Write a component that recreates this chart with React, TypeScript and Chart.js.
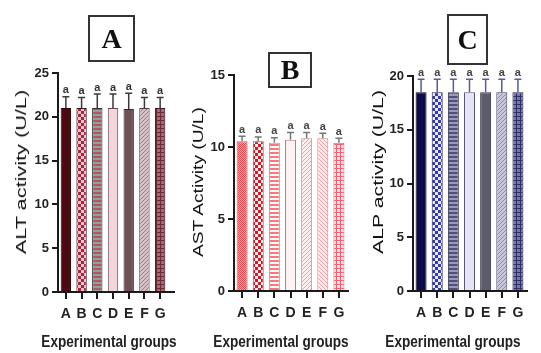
import React, { useEffect, useRef } from 'react';
import { Chart, registerables } from 'chart.js';

Chart.register(...registerables);

// ---------- data ----------
const groups = ['A', 'B', 'C', 'D', 'E', 'F', 'G'];
const sigLetters = ['a', 'a', 'a', 'a', 'a', 'a', 'a'];

const altValues = [21.0, 21.0, 21.0, 21.0, 20.9, 21.0, 21.0];
const altErrors = [1.3, 1.2, 1.6, 1.6, 1.8, 1.2, 1.2];
const altMax = 25;

const astValues = [10.4, 10.4, 10.3, 10.5, 10.6, 10.6, 10.3];
const astErrors = [0.35, 0.3, 0.35, 0.5, 0.4, 0.35, 0.3];
const astMax = 15;

const alpValues = [18.5, 18.5, 18.5, 18.5, 18.5, 18.5, 18.5];
const alpErrors = [1.2, 1.2, 1.2, 1.2, 1.2, 1.2, 1.2];
const alpMax = 20;

const tickStep = 5;

// ---------- styles ----------
type Fill = [string, string, string, string]; // kind, fg, bg, border

const altFills: Fill[] = [
  ['solid', '#4d0a12', '', '#2a0508'],
  ['checker', '#a5263e', '#f2c8cf', '#3a1a20'],
  ['hstripe', '#b05868', '#8fa394', '#3a2a2e'],
  ['solid', '#f2d6dc', '', '#6a4a52'],
  ['solid', '#6e5055', '', '#3a2a2e'],
  ['diag', '#a07f88', '#d6c0c6', '#4a3a3e'],
  ['grid', '#6a2a32', '#a86a72', '#3a1a20'],
];

const astFills: Fill[] = [
  ['fine', '#e84850', '#f8a8a8', '#c06060'],
  ['checker', '#d01828', '#fff0f0', '#a04048'],
  ['hstripe', '#f07a80', '#fff6f6', '#d08088'],
  ['solid', '#fff2f4', '', '#d07080'],
  ['diag', '#f09aa0', '#fff0f0', '#d08890'],
  ['diag2', '#f0a0a8', '#ffeaec', '#d08890'],
  ['grid', '#f06070', '#ffe4e8', '#c86070'],
];

const alpFills: Fill[] = [
  ['solid', '#0c0c48', '', '#050520'],
  ['checker', '#3838b0', '#e8e8ff', '#202050'],
  ['hstripe', '#505078', '#9a9ab8', '#303050'],
  ['solid', '#e4e4f4', '', '#555577'],
  ['solid', '#5c5c6c', '', '#303040'],
  ['diag', '#8888a8', '#c8c8dc', '#404060'],
  ['grid', '#303068', '#7878a8', '#202040'],
];

const SANS = '"Liberation Sans", Arial, sans-serif';

function makeFill(kind: string, fg: string, bg: string): any {
  if (kind === 'solid') return fg;
  const c = document.createElement('canvas');
  const g = c.getContext('2d') as CanvasRenderingContext2D;
  if (kind === 'checker') {
    c.width = c.height = 6;
    g.fillStyle = bg; g.fillRect(0, 0, 6, 6);
    g.fillStyle = fg; g.fillRect(0, 0, 3, 3); g.fillRect(3, 3, 3, 3);
  } else if (kind === 'fine') {
    c.width = c.height = 2;
    g.fillStyle = bg; g.fillRect(0, 0, 2, 2);
    g.fillStyle = fg; g.fillRect(0, 0, 1, 1); g.fillRect(1, 1, 1, 1);
  } else if (kind === 'hstripe') {
    c.width = c.height = 4;
    g.fillStyle = bg; g.fillRect(0, 0, 4, 4);
    g.fillStyle = fg; g.fillRect(0, 0, 4, 2);
  } else if (kind === 'grid') {
    c.width = c.height = 4;
    g.fillStyle = bg; g.fillRect(0, 0, 4, 4);
    g.fillStyle = fg; g.fillRect(0, 0, 4, 1); g.fillRect(0, 0, 1, 4);
  } else if (kind === 'diag' || kind === 'diag2') {
    c.width = c.height = 4;
    g.fillStyle = bg; g.fillRect(0, 0, 4, 4);
    g.fillStyle = fg;
    for (let i = 0; i < 4; i++) {
      const y = kind === 'diag' ? 3 - i : i;
      g.fillRect(i, y, 1, 1);
    }
  }
  return g.createPattern(c, 'repeat');
}

interface PanelCfg {
  values: number[];
  errors: number[];
  max: number;
  fills: Fill[];
  left: number;
  width: number;
  area: { left: number; right: number; top: number; bottom: number }; // chart area inside canvas
  errColor: string;
  letterColor: string;
  ext: number;
  barPct: number;
}

const Y_BOX = 45; // width reserved for y tick labels
const X_BOX = 34; // height reserved for x tick labels

function Panel({ cfg }: { cfg: PanelCfg }) {
  const ref = useRef<HTMLCanvasElement>(null);
  useEffect(() => {
    const fills = cfg.fills.map((f) => makeFill(f[0], f[1], f[2]));
    const a = cfg.area;
    const pad = {
      left: a.left - Y_BOX,
      right: cfg.width - a.right,
      top: a.top,
      bottom: 353 - a.bottom - X_BOX,
    };
    const errPlugin = {
      id: 'errbars',
      afterDatasetsDraw(chart: any) {
        const { ctx, chartArea } = chart;
        const meta = chart.getDatasetMeta(0);
        const ys = chart.scales.y;
        ctx.save();
        meta.data.forEach((bar: any, i: number) => {
          const x = bar.x;
          const yBar = ys.getPixelForValue(cfg.values[i]);
          const yTop = ys.getPixelForValue(cfg.values[i] + cfg.errors[i]);
          ctx.strokeStyle = cfg.errColor;
          ctx.lineWidth = 1.5;
          ctx.beginPath();
          ctx.moveTo(x, yBar);
          ctx.lineTo(x, yTop);
          ctx.moveTo(x - 3.5, yTop);
          ctx.lineTo(x + 3.5, yTop);
          ctx.stroke();
          ctx.fillStyle = cfg.letterColor;
          ctx.font = `bold 11px ${SANS}`;
          ctx.textAlign = 'center';
          ctx.textBaseline = 'bottom';
          ctx.fillText(sigLetters[i], x, yTop - 1);
        });
        ctx.strokeStyle = '#1a1a1a';
        ctx.lineWidth = 2;
        ctx.beginPath();
        ctx.moveTo(chartArea.right - 1, chartArea.bottom);
        ctx.lineTo(chartArea.right + cfg.ext, chartArea.bottom);
        ctx.stroke();
        ctx.restore();
      },
    };
    const chart = new Chart(ref.current as HTMLCanvasElement, {
      type: 'bar',
      data: {
        labels: groups,
        datasets: [
          {
            data: cfg.values,
            backgroundColor: fills,
            borderColor: cfg.fills.map((f) => f[3]),
            borderWidth: 1,
            barPercentage: cfg.barPct,
            categoryPercentage: 1,
          },
        ],
      },
      options: {
        responsive: false,
        animation: false,
        devicePixelRatio: 1,
        layout: { padding: pad },
        plugins: { legend: { display: false }, tooltip: { enabled: false } },
        scales: {
          x: {
            grid: {
              offset: false,
              drawOnChartArea: false,
              drawTicks: true,
              tickLength: 7,
              color: '#1a1a1a',
              lineWidth: 2,
            },
            border: { display: true, color: '#1a1a1a', width: 2 },
            ticks: {
              font: { family: SANS, size: 14, weight: 'bold' },
              color: '#222',
              padding: 7,
              maxRotation: 0,
              autoSkip: false,
            },
            afterFit: (s: any) => {
              s.height = X_BOX;
            },
          },
          y: {
            min: 0,
            max: cfg.max,
            ticks: {
              stepSize: tickStep,
              font: { family: SANS, size: 13, weight: 'bold' },
              color: '#222',
              padding: 3,
            },
            grid: {
              drawOnChartArea: false,
              drawTicks: true,
              tickLength: 6,
              color: '#1a1a1a',
              lineWidth: 2,
            },
            border: { display: true, color: '#1a1a1a', width: 2 },
            afterFit: (s: any) => {
              s.width = Y_BOX;
            },
          },
        },
      } as any,
      plugins: [errPlugin],
    });
    return () => chart.destroy();
  }, []);
  return (
    <canvas
      ref={ref}
      width={cfg.width}
      height={353}
      style={{ position: 'absolute', left: cfg.left, top: 0, width: cfg.width, height: 353 }}
    />
  );
}

const panels: PanelCfg[] = [
  {
    values: altValues, errors: altErrors, max: altMax, fills: altFills,
    left: 0, width: 180, area: { left: 58, right: 168, top: 73, bottom: 292 },
    errColor: '#3a3a3a', letterColor: '#333', ext: 7, barPct: 0.66,
  },
  {
    values: astValues, errors: astErrors, max: astMax, fills: astFills,
    left: 180, width: 180, area: { left: 54, right: 167, top: 75, bottom: 291 },
    errColor: '#777', letterColor: '#444', ext: 2, barPct: 0.68,
  },
  {
    values: alpValues, errors: alpErrors, max: alpMax, fills: alpFills,
    left: 360, width: 181, area: { left: 53, right: 166, top: 76, bottom: 291 },
    errColor: '#5a5aa0', letterColor: '#444', ext: 2, barPct: 0.68,
  },
];

const boxTitles = [
  { text: 'A', left: 88, top: 15, w: 47, h: 47 },
  { text: 'B', left: 268, top: 52, w: 44, h: 36 },
  { text: 'C', left: 447, top: 14, w: 41, h: 51 },
];

const yTitles = [
  { text: 'ALT activity (U/L)', cx: 21, cy: 172, sx: 1.55 },
  { text: 'AST Activity (U/L)', cx: 197.5, cy: 182, sx: 1.37 },
  { text: 'ALP activity (U/L)', cx: 377.5, cy: 172, sx: 1.52 },
];

const xTitles = [
  { text: 'Experimental groups', cx: 109, cy: 342 },
  { text: 'Experimental groups', cx: 281, cy: 342 },
  { text: 'Experimental groups', cx: 452.5, cy: 342 },
];

export default function App() {
  return (
    <div
      style={{
        position: 'absolute', left: 0, top: 0, width: 541, height: 353,
        background: '#fff', overflow: 'hidden',
      }}
    >
      {panels.map((p, i) => (
        <Panel key={i} cfg={p} />
      ))}
      {boxTitles.map((b, i) => (
        <div
          key={'b' + i}
          style={{
            position: 'absolute', left: b.left, top: b.top, width: b.w, height: b.h,
            boxSizing: 'border-box', border: '2px solid #333',
            display: 'flex', alignItems: 'center', justifyContent: 'center',
            fontFamily: '"Liberation Serif", "Times New Roman", serif', fontWeight: 'bold',
            fontSize: 28, color: '#111', lineHeight: 1,
          }}
        >
          {b.text}
        </div>
      ))}
      {yTitles.map((t, i) => (
        <div
          key={'y' + i}
          style={{
            position: 'absolute', left: t.cx, top: t.cy, whiteSpace: 'nowrap',
            transform: `translate(-50%, -50%) rotate(-90deg) scaleX(${t.sx})`,
            fontFamily: SANS, fontSize: 14, color: '#111', lineHeight: 1,
          }}
        >
          {t.text}
        </div>
      ))}
      {xTitles.map((t, i) => (
        <div
          key={'x' + i}
          style={{
            position: 'absolute', left: t.cx, top: t.cy, whiteSpace: 'nowrap',
            transform: 'translate(-50%, -50%) scaleX(0.85)',
            fontFamily: SANS, fontWeight: 'bold', fontSize: 16, color: '#222', lineHeight: 1,
          }}
        >
          {t.text}
        </div>
      ))}
    </div>
  );
}
